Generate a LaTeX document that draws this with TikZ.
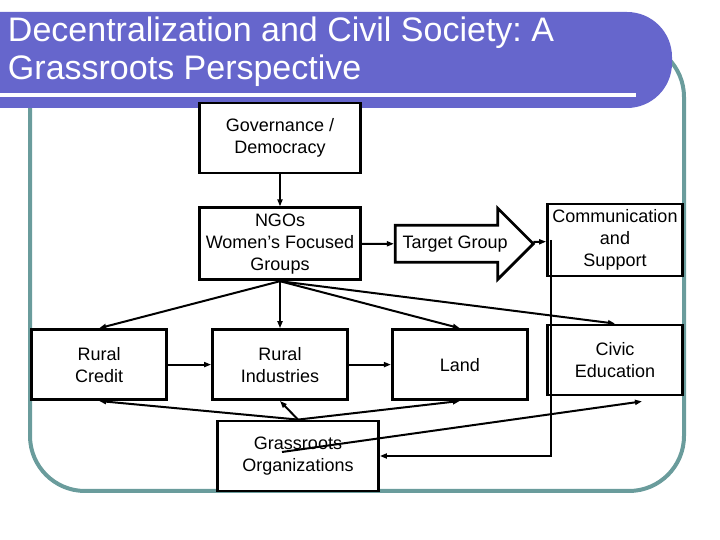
\documentclass[tikz,border=0pt]{standalone}
\usepackage{fontspec}
\setmainfont{Liberation Sans}
\usetikzlibrary{arrows.meta, positioning, shapes.arrows}
\definecolor{gspviolet}{HTML}{6666CC}
\definecolor{gspteal}{HTML}{6A9C9C}
\frenchspacing
\tikzset{
  gsp/.style={
    x=1pt, y=1pt,
    font=\fontsize{18}{22}\selectfont,
    >={Triangle[length=7pt, width=5pt]},
    line width=2pt,
    node distance=32pt and 32pt,
  },
  box/.style={
    draw=black, fill=white, line width=2.8pt, inner sep=2pt, align=center,
    minimum height=70pt, minimum width=135pt,
  },
  widebox/.style={box, minimum width=161pt},
  tallbox/.style={box, minimum height=72pt},
  targetarrow/.style={
    draw=black, fill=white, line width=2.8pt, single arrow,
    single arrow head extend=17pt, single arrow tip angle=90,
    minimum height=138pt, inner xsep=2pt, inner ysep=9pt,
  },
  flow/.style={->, draw=black},
  frame/.style={draw=gspteal, line width=4pt, rounded corners=55pt},
  titlebar/.style={fill=gspviolet, rounded corners=45pt},
  titletext/.style={
    text=white, font=\fontsize{34}{37.5}\selectfont, align=left, inner sep=0pt,
  },
}

\begin{document}
\begin{tikzpicture}[gsp]
  \useasboundingbox (0,0) rectangle (720,540);
  \draw[frame] (30,49) rectangle (684,498);
  \fill[titlebar] (-60,432) rectangle (672,528);
  \draw[white, line width=3.5pt] (0,445) -- (636,445);
  \node[titletext, anchor=north west] (title) at (7,524) {Decentralization and Civil Society: A\\Grassroots Perspective};

  \node[widebox] (gov) at (280,402) {Governance /\\Democracy};
  \node[widebox, tallbox, minimum width=161pt, below=of gov] (ngo) {NGOs\\Women’s Focused\\Groups};
  \node[targetarrow, right=of ngo] (target) {Target Group};
  \node[tallbox] (comm) at (615,300) {Communication\\and\\Support};
  \node[box, below=47pt of ngo] (ind) {Rural\\Industries};
  \node[box, left=43pt of ind] (credit) {Rural\\Credit};
  \node[box, right=42pt of ind] (land) {Land};
  \node[box] (civic) at (615,180) {Civic\\Education};
  \node[widebox] (grass) at (298,84) {Grassroots\\Organizations};

  \coordinate (strike) at ([shift={(-16,4)}]grass.center);
  \coordinate (civicend) at ([shift={(27,-5)}]civic.south);

  \draw[flow] (gov) -- (ngo);
  \draw[flow] (ngo) -- (target);
  \draw[flow] (target) -- (comm);
  \foreach \n in {credit, ind, land, civic}
    \draw[flow] (ngo.south) -- (\n.north);
  \draw[flow] (credit) -- (ind);
  \draw[flow] (ind) -- (land);
  \foreach \n in {credit, ind, land}
    \draw[flow] (grass.north) -- (\n.south);
  \draw[flow] (strike) -- (civicend);
  \draw[flow] ([xshift=5pt]comm.west) |- (grass.east);
\end{tikzpicture}
\end{document}
